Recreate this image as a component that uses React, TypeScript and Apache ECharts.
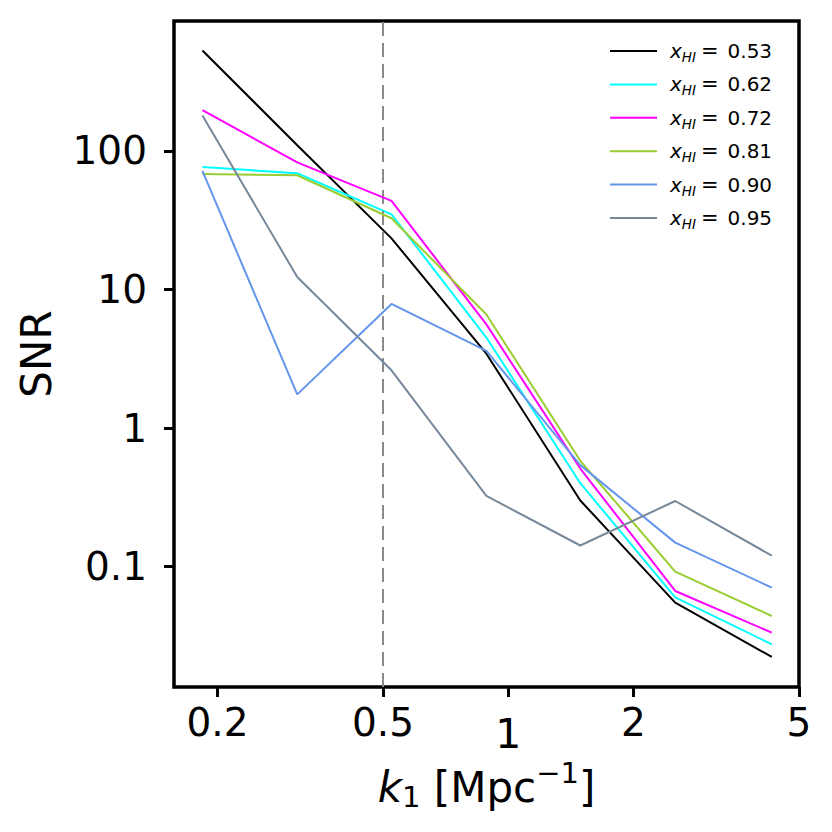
import React, { useEffect, useRef } from "react";
import * as echarts from "echarts";

const kValues = [0.184, 0.311, 0.524, 0.886, 1.49, 2.52, 4.3];
const seriesNames = ["0.53", "0.62", "0.72", "0.81", "0.90", "0.95"];
const colors = ["#000000", "#00ffff", "#ff00ff", "#9acd32", "#6495ed", "#778899"];
const snr053 = [531, 110, 23.4, 3.44, 0.3, 0.055, 0.0223];
const snr062 = [76.7, 69, 34.9, 4.5, 0.4, 0.06, 0.0275];
const snr072 = [197, 82.8, 43.6, 5.6, 0.51, 0.0667, 0.0334];
const snr081 = [68.2, 66.8, 32.7, 6.6, 0.58, 0.092, 0.044];
const snr090 = [71.7, 1.75, 7.87, 3.6, 0.54, 0.149, 0.0705];
const snr095 = [180, 12.3, 2.61, 0.324, 0.142, 0.2975, 0.12];
const allSnr = [snr053, snr062, snr072, snr081, snr090, snr095];
const xTicks = [0.2, 0.5, 1, 2, 5];
const xTickLabels = ["0.2", "0.5", "{one|1}", "2", "5"];
const yTicks = [0.1, 1, 10, 100];
const yTickLabels = ["0.1", "1", "10", "100"];
const vLineK = 0.5;

const FONT = "DejaVu Sans";

export default function App() {
  const ref = useRef<HTMLDivElement>(null);
  useEffect(() => {
    if (!ref.current) return;
    const chart = echarts.init(ref.current, undefined, { renderer: "svg" });
    const fmt = (vals: number[], labels: string[]) => (v: number) => {
      for (let i = 0; i < vals.length; i++) {
        if (Math.abs(v - vals[i]) / vals[i] < 1e-6) return labels[i];
      }
      return "";
    };
    const series: any[] = allSnr.map((arr, i) => ({
      name: seriesNames[i],
      type: "line",
      data: arr.map((y, j) => [kValues[j], y]),
      symbol: "none",
      color: colors[i],
      lineStyle: { width: 2, color: colors[i] },
      z: 3 + i,
    }));
    series[0].markLine = {
      silent: true,
      symbol: ["none", "none"],
      label: { show: false },
      lineStyle: { color: "#8a8a8a", type: [14, 7], width: 2 },
      data: [{ xAxis: vLineK }],
    };
    chart.setOption({
      animation: false,
      backgroundColor: "#ffffff",
      textStyle: { fontFamily: FONT },
      grid: {
        left: 174,
        top: 21,
        right: 33,
        bottom: 145,
        show: true,
        borderColor: "#000",
        borderWidth: 3.5,
        backgroundColor: "transparent",
        containLabel: false,
      },
      legend: {
        left: 605,
        top: 33,
        orient: "vertical",
        icon: "rect",
        itemWidth: 47,
        itemHeight: 2,
        itemGap: 7.4,
        data: seriesNames,
        formatter: (name: string) => `{x|x}{s|HI}{e|=}{t|${name}}`,
        textStyle: {
          fontFamily: FONT,
          fontSize: 20,
          color: "#000",
          lineHeight: 24,
          rich: {
            x: { fontFamily: FONT, fontStyle: "italic", fontSize: 20, lineHeight: 24, padding: [0, 0, 0, 8] },
            s: { fontFamily: FONT, fontStyle: "italic", fontSize: 13.5, lineHeight: 24, padding: [12, 0, 0, 0] },
            e: { fontFamily: FONT, fontSize: 21, lineHeight: 24, padding: [0, 9, 0, 5] },
            t: { fontFamily: FONT, fontSize: 20, lineHeight: 24 },
          },
        },
      },
      xAxis: {
        type: "log",
        logBase: 10,
        min: 0.1572,
        max: 5.0,
        name: "{i|k}{sub|1}{t| [Mpc}{sup|−1}{t|]}",
        nameLocation: "middle",
        nameGap: 75,
        nameTextStyle: {
          fontFamily: FONT,
          fontSize: 42,
          color: "#000",
          rich: {
            i: { fontFamily: FONT, fontStyle: "italic", fontSize: 42, lineHeight: 50 },
            sub: { fontFamily: FONT, fontSize: 29, lineHeight: 50, padding: [20, 0, 0, 0] },
            t: { fontFamily: FONT, fontSize: 42, lineHeight: 50 },
            sup: { fontFamily: FONT, fontSize: 29, lineHeight: 50, padding: [0, 0, 28, 0] },
          },
        },
        axisLine: { show: false },
        splitLine: { show: false },
        minorTick: { show: false },
        axisTick: { show: true, inside: false, length: 10, lineStyle: { color: "#000", width: 3 }, customValues: xTicks },
        axisLabel: {
          customValues: xTicks,
          formatter: fmt(xTicks, xTickLabels),
          fontFamily: FONT,
          fontSize: 39,
          color: "#000",
          margin: 16,
          rich: {
            one: { fontFamily: FONT, fontSize: 41, padding: [10, 0, 0, 0] },
          },
        },
      },
      yAxis: {
        type: "log",
        logBase: 10,
        min: 0.01352,
        max: 867,
        name: "SNR",
        nameLocation: "middle",
        nameGap: 117,
        nameTextStyle: { fontFamily: FONT, fontSize: 42, color: "#000" },
        axisLine: { show: false },
        splitLine: { show: false },
        minorTick: { show: false },
        axisTick: { show: true, inside: false, length: 10, lineStyle: { color: "#000", width: 3 }, customValues: yTicks },
        axisLabel: {
          customValues: yTicks,
          formatter: fmt(yTicks, yTickLabels),
          fontFamily: FONT,
          fontSize: 39,
          color: "#000",
          margin: 27,
        },
      },
      series,
    });
    return () => chart.dispose();
  }, []);
  return <div ref={ref} style={{ position: "absolute", left: 0, top: 0, width: 832, height: 832 }} />;
}
